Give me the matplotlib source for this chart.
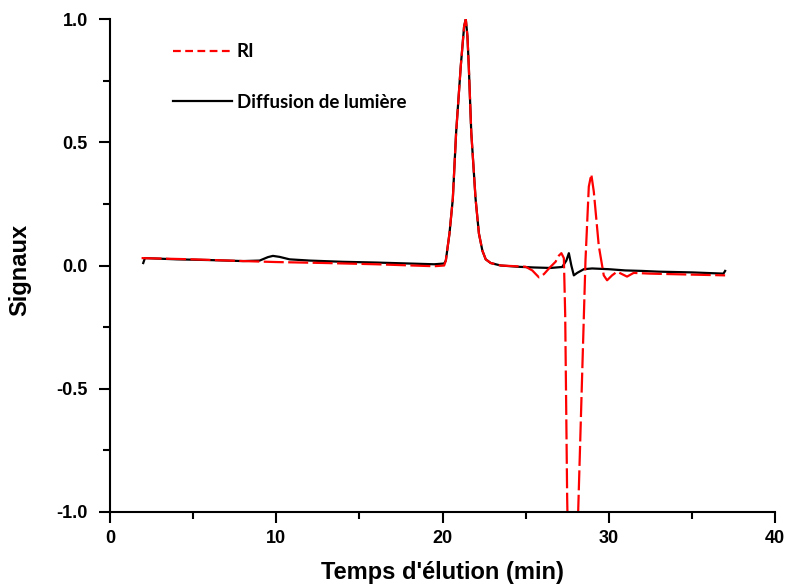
import matplotlib
matplotlib.use("Agg")
import matplotlib.pyplot as plt
from matplotlib.lines import Line2D
from matplotlib.ticker import MultipleLocator

# Diffusion de lumière (noir)
t_ls = [2.0, 2.1, 4.0, 6.0, 8.0, 9.0, 9.5, 9.8, 10.2, 10.8, 12.0, 14.0, 16.0, 18.0,
        19.5, 20.1, 20.2, 20.42, 20.62, 20.82, 21.1, 21.3, 21.4, 21.5, 21.58, 21.73,
        21.99, 22.19, 22.4, 22.6, 22.9, 23.5, 24.5, 25.5, 26.5, 27.2, 27.45, 27.6,
        27.75, 27.9, 28.1, 28.5, 29.0, 30.0, 31.0, 32.0, 33.0, 35.0, 36.9, 37.0]
s_ls = [0.01, 0.03, 0.025, 0.022, 0.018, 0.02, 0.034, 0.039, 0.035, 0.025, 0.02,
        0.015, 0.012, 0.008, 0.005, 0.008, 0.02, 0.13, 0.27, 0.54, 0.81, 0.97, 1.0,
        0.93, 0.81, 0.54, 0.27, 0.13, 0.06, 0.025, 0.01, 0.0, -0.005, -0.008,
        -0.01, -0.006, 0.02, 0.05, 0.0, -0.04, -0.03, -0.015, -0.012, -0.015, -0.02,
        -0.022, -0.025, -0.028, -0.033, -0.022]

# RI (rouge)
t_ri = [1.9, 5.0, 8.0, 10.0, 13.0, 16.0, 19.5, 20.1, 20.2, 20.42, 20.62, 20.82,
        21.1, 21.3, 21.4, 21.5, 21.58, 21.73, 21.99, 22.19, 22.4, 22.6, 22.9, 23.5,
        25.0, 25.4, 25.8, 26.1, 26.5, 26.8, 27.0, 27.15, 27.3, 27.38, 27.5, 27.6,
        28.0, 28.16, 28.6, 28.8, 28.95, 29.1, 29.4, 29.7, 29.9, 30.2, 30.5, 30.8,
        31.1, 31.5, 32.5, 35.0, 37.0]
s_ri = [0.03, 0.025, 0.018, 0.014, 0.01, 0.005, -0.003, 0.0, 0.02, 0.13, 0.27,
        0.54, 0.81, 0.97, 1.0, 0.93, 0.81, 0.54, 0.27, 0.13, 0.06, 0.025, 0.01, 0.0,
        -0.005, -0.02, -0.048, -0.035, -0.005, 0.015, 0.04, 0.05, 0.03, -0.2, -0.95,
        -1.3, -1.3, -1.0, 0.02, 0.32, 0.37, 0.3, 0.08, -0.04, -0.06, -0.04, -0.025,
        -0.035, -0.045, -0.03, -0.033, -0.037, -0.04]

fig = plt.figure(figsize=(7.86, 5.86), dpi=100)
ax = fig.add_axes([110 / 786, 1 - 512 / 586, 665 / 786, 493 / 586])

ax.plot(t_ls, s_ls, color="black", linewidth=1.6)
ax.plot(t_ri, s_ri, color="red", linewidth=1.6, linestyle=(0, (9, 2)))

ax.set_xlim(0, 40)
ax.set_ylim(-1, 1)
ax.xaxis.set_major_locator(MultipleLocator(10))
ax.xaxis.set_minor_locator(MultipleLocator(5))
ax.yaxis.set_major_locator(MultipleLocator(0.5))
ax.yaxis.set_minor_locator(MultipleLocator(0.25))
ax.set_yticks([-1.0, -0.5, 0.0, 0.5, 1.0])
ax.set_yticklabels(["-1.0", "-0.5", "0.0", "0.5", "1.0"])

for side in ["top", "right"]:
    ax.spines[side].set_visible(False)
for side in ["left", "bottom"]:
    ax.spines[side].set_linewidth(1.5)
ax.tick_params(which="major", direction="out", length=8, width=1.5)
ax.tick_params(which="minor", direction="out", length=5, width=1.5)
ax.tick_params(axis="y", which="major", pad=8)
ax.tick_params(axis="x", which="major", pad=5)
for lab in ax.get_xticklabels() + ax.get_yticklabels():
    lab.set_fontfamily("Liberation Sans")
    lab.set_fontweight("bold")
    lab.set_fontsize(13)

ax.set_xlabel("Temps d'élution (min)", fontfamily="Liberation Sans",
              fontweight="bold", fontsize=17)
ax.xaxis.set_label_coords(0.5, -0.1)
ax.set_ylabel("Signaux", fontfamily="Liberation Sans", fontweight="bold",
              fontsize=17)
ax.yaxis.set_label_coords(-0.118, 0.49)

handles = [Line2D([], [], color="red", linewidth=1.6, linestyle=(0, (3.5, 2))),
           Line2D([], [], color="black", linewidth=1.6)]
ax.legend(handles, ["RI", "Diffusion de lumière"], loc="upper left",
          bbox_to_anchor=(0.07, 0.985), frameon=False, handlelength=3.1,
          handletextpad=0.27, labelspacing=1.8,
          prop={"family": "Lato", "weight": "bold", "size": 13.5})

fig.savefig("out.png", dpi=100)
